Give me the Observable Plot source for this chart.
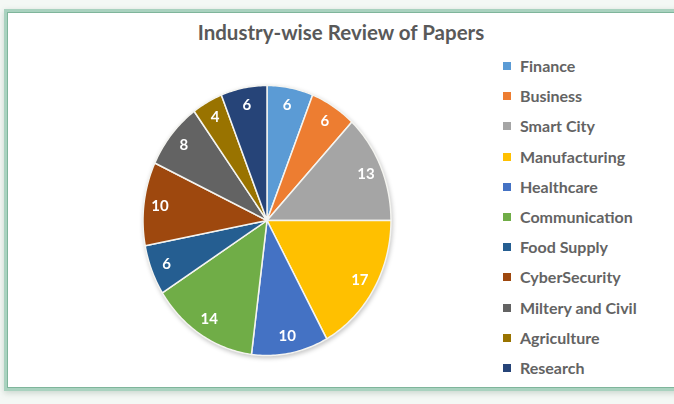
<!DOCTYPE html>
<html>
<head>
<meta charset="utf-8">
<script src="https://cdn.jsdelivr.net/npm/d3@7"></script>
<script src="https://cdn.jsdelivr.net/npm/@observablehq/plot@0.6"></script>
<style>
  html, body { margin: 0; padding: 0; background: #f3f7f4; }
  #wrap { position: relative; width: 674px; height: 404px; overflow: hidden; background: #f4f8f5; font-family: Lato, "Open Sans", sans-serif; }
  #frame { position: absolute; left: 4px; top: 9px; width: 690px; height: 376px; background: #fff;
           border: 3px solid #a9d2bf; box-shadow: inset 0 0 0 1px #7fb59b, 0 2px 6px rgba(120,150,130,0.35); }
  #title { position: absolute; left: 0; width: 682px; top: 20px; text-align: center; font-size: 20.5px; font-weight: bold; color: #595959; }
  #chart { position: absolute; left: 0; top: 0; }
  #legend { position: absolute; left: 503px; top: 56px; }
  .row { position: absolute; left: 0; height: 20px; white-space: nowrap; font-size: 16px; font-weight: bold; color: #636363; }
  .sw { position: absolute; left: 0; top: 6px; width: 8px; height: 8px; }
  .lb { position: absolute; left: 17px; top: 0; line-height: 20px; }
</style>
</head>
<body>
<div id="wrap">
  <div id="frame"></div>
  <div id="title">Industry-wise Review of Papers</div>
  <div id="chart"></div>
  <div id="legend"></div>
</div>
<script>
const categories = ["Finance", "Business", "Smart City", "Manufacturing", "Healthcare", "Communication", "Food Supply", "CyberSecurity", "Miltery and Civil", "Agriculture", "Research"];
const values = [6, 6, 13, 17, 10, 14, 6, 10, 8, 4, 6];
const colors = ["#5B9BD5", "#ED7D31", "#A5A5A5", "#FFC000", "#4472C4", "#70AD47", "#255E91", "#9E480E", "#636363", "#997300", "#264478"];

// Slice angles from the data (clockwise from 12 o'clock)
const arcs = d3.pie().sort(null).value(d => d.value)(categories.map((c, i) => ({cat: c, value: values[i]})));

const wedgePts = [];
arcs.forEach(a => {
  const n = Math.max(2, Math.ceil((a.endAngle - a.startAngle) / (Math.PI / 180)));
  wedgePts.push({cat: a.data.cat, x: 0, y: 0});
  for (let k = 0; k <= n; k++) {
    const t = a.startAngle + (a.endAngle - a.startAngle) * k / n;
    wedgePts.push({cat: a.data.cat, x: Math.sin(t), y: Math.cos(t)});
  }
});
const labelPts = arcs.map(a => {
  const m = (a.startAngle + a.endAngle) / 2;
  return {cat: a.data.cat, value: a.data.value, x: 0.87 * Math.sin(m), y: 0.87 * Math.cos(m)};
});

const chart = Plot.plot({
  width: 674,
  height: 404,
  marginLeft: 142.5,
  marginRight: 283.5,
  marginTop: 85,
  marginBottom: 49,
  x: {domain: [-1, 1], axis: null},
  y: {domain: [-1, 1], axis: null},
  color: {domain: categories, range: colors},
  style: {background: "transparent", overflow: "visible"},
  marks: [
    Plot.line(wedgePts, {x: "x", y: "y", z: "cat", fill: "cat", stroke: "#f4f4f0", strokeWidth: 1.5, curve: "linear-closed"}),
    Plot.text(labelPts, {x: "x", y: "y", text: d => String(d.value), fill: "white", fontSize: 15, fontWeight: "bold", fontFamily: "Lato, sans-serif"})
  ]
});
chart.style.filter = "drop-shadow(1px 2px 2px rgba(0,0,0,0.22))";
document.getElementById("chart").appendChild(chart);

const legend = document.getElementById("legend");
categories.forEach((c, i) => {
  const row = document.createElement("div");
  row.className = "row";
  row.style.top = (i * 30.2) + "px";
  const sw = document.createElement("div");
  sw.className = "sw";
  sw.style.background = colors[i];
  const lb = document.createElement("div");
  lb.className = "lb";
  lb.textContent = c;
  row.appendChild(sw);
  row.appendChild(lb);
  legend.appendChild(row);
});
</script>
</body>
</html>
